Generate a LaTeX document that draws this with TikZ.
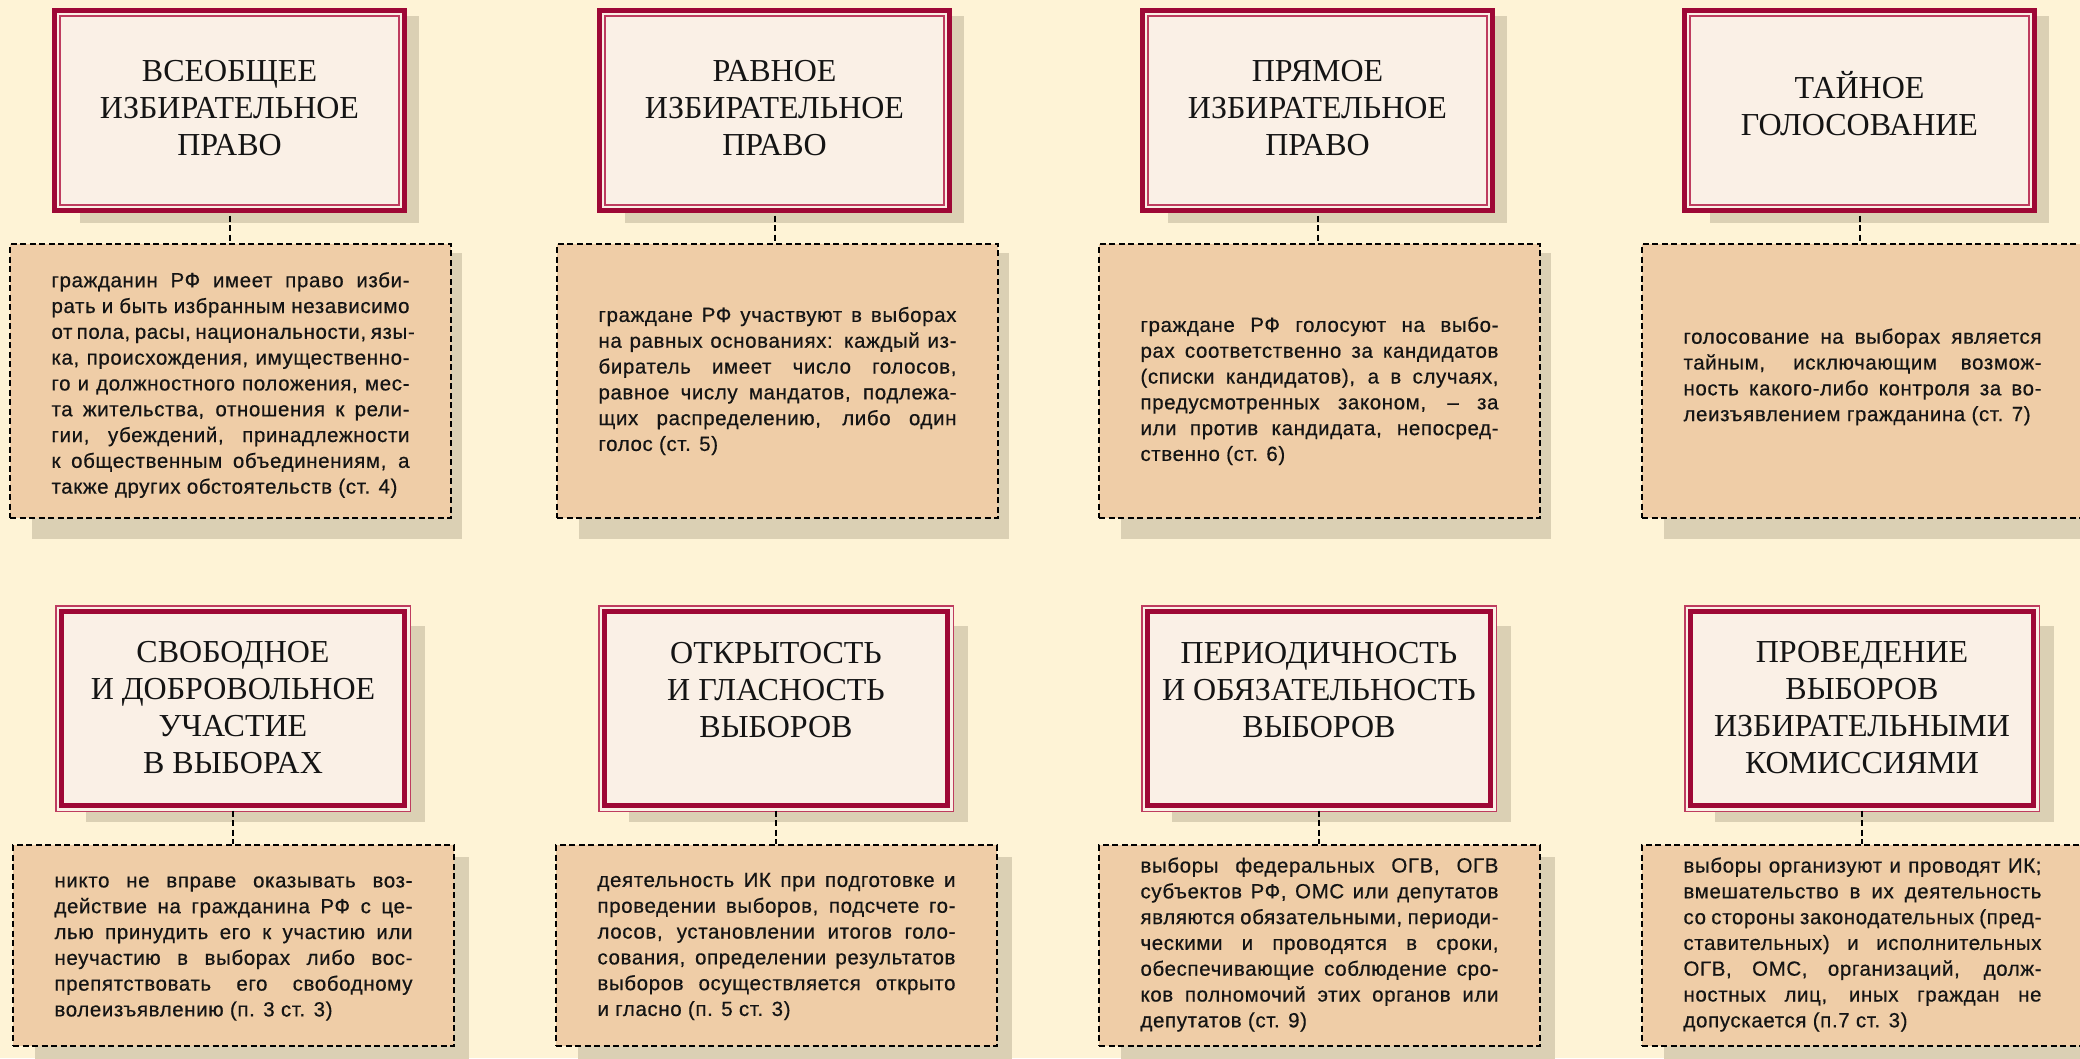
\documentclass[tikz,border=0pt]{standalone}
\usepackage{fontspec}
\setmainfont{Liberation Serif}
\newfontfamily\bodyfont[LetterSpace=3,FakeBold=0.5]{Liberation Sans}
\definecolor{bgc}{RGB}{254,243,214}
\definecolor{crim}{RGB}{158,8,54}
\definecolor{crimlt}{RGB}{190,60,95}
\definecolor{tfill}{RGB}{250,240,230}
\definecolor{peach}{RGB}{239,205,167}
\definecolor{shdw}{RGB}{219,208,180}
\newcommand\jl[1]{\makebox[358pt][s]{#1}\\}
\newcommand\lastl[1]{\makebox[358pt][l]{#1}}
\tikzset{
  ttop/.style={draw=crim, fill=tfill, line width=5pt, inner sep=0pt,
    minimum width=350pt, minimum height=200pt},
  tbot/.style={draw=crim, fill=tfill, line width=5pt, inner sep=0pt,
    minimum width=343pt, minimum height=194pt},
  ttext/.style={align=center, inner sep=0pt, text=black!92,
    font=\fontsize{32}{37}\selectfont},
  tbx/.style={draw=black, fill=peach, line width=2pt, dash pattern=on 6pt off 3.5pt,
    minimum width=441pt, inner sep=0pt},
  btext/.style={align=left, inner sep=0pt, text=black!92,
    font=\bodyfont\fontsize{20.5}{25.8}\selectfont},
  conn/.style={draw=black, line width=2pt, dash pattern=on 6pt off 3.5pt, shorten <=2.5pt}
}
% top title: name, left x, text centre y, text
\newcommand\TT[4]{%
  \fill[shdw] ({#2+28},16) rectangle ({#2+367},223);
  \node[ttop] (#1) at ({#2+177.5},110.5) {};
  \draw[crimlt, line width=2pt] ({#2+8.3},16.3) rectangle ({#2+346.7},204.7);
  \node[ttext] (#1x) at ({#2+177.5},#3) {#4};
}
% bottom title: name, left x, text centre y, text
\newcommand\TB[4]{%
  \fill[shdw] ({#2+31},626) rectangle ({#2+370},822);
  \draw[crimlt, line width=1.5pt, fill=tfill] ({#2+0.75},605.75) rectangle ({#2+355.25},811.25);
  \node[tbot] (#1) at ({#2+178},708.5) {};
  \node[ttext] (#1x) at ({#2+178},#3) {#4};
}
% top text box: name, left x, text offset, text
\newcommand\XT[4]{%
  \fill[shdw] ({#2+23},253) rectangle ({#2+453},539);
  \node[tbx, minimum height=274pt] (#1) at ({#2+221.5},381) {};
  \node[btext] (#1x) at ({#2+221.5},{381+#3}) {#4};
}
% bottom text box
\newcommand\XB[4]{%
  \fill[shdw] ({#2+23},857) rectangle ({#2+457},1070);
  \node[tbx, minimum height=201pt] (#1) at ({#2+221.5},945.5) {};
  \node[btext] (#1x) at ({#2+221.5},{945.5+#3}) {#4};
}
\begin{document}
\begin{tikzpicture}[x=1pt,y=-1pt]
\useasboundingbox (0,0) rectangle (2080,1058);
\fill[bgc] (0,0) rectangle (2080,1058);

% ---------- top row ----------
\TT{t1}{52}{108}{ВСЕОБЩЕЕ\\ИЗБИРАТЕЛЬНОЕ\\ПРАВО}
\XT{b1}{9}{4}{%
\jl{гражданин РФ имеет право изби-}
\jl{рать и быть избранным независимо}
\jl{от пола, расы, национальности, язы-}
\jl{ка, происхождения, имущественно-}
\jl{го и должностного положения, мес-}
\jl{та жительства, отношения к рели-}
\jl{гии, убеждений, принадлежности}
\jl{к общественным объединениям, а}
\lastl{также других обстоятельств (ст. 4)}}

\TT{t2}{597}{108}{РАВНОЕ\\ИЗБИРАТЕЛЬНОЕ\\ПРАВО}
\XT{b2}{556}{0}{%
\jl{граждане РФ участвуют в выборах}
\jl{на равных основаниях: каждый из-}
\jl{биратель имеет число голосов,}
\jl{равное числу мандатов, подлежа-}
\jl{щих распределению, либо один}
\lastl{голос (ст. 5)}}

\TT{t3}{1140}{108}{ПРЯМОЕ\\ИЗБИРАТЕЛЬНОЕ\\ПРАВО}
\XT{b3}{1098}{10}{%
\jl{граждане РФ голосуют на выбо-}
\jl{рах соответственно за кандидатов}
\jl{(списки кандидатов), а в случаях,}
\jl{предусмотренных законом, – за}
\jl{или против кандидата, непосред-}
\lastl{ственно (ст. 6)}}

\TT{t4}{1682}{104}{ТАЙНОЕ\\ГОЛОСОВАНИЕ}
\XT{b4}{1641}{-4}{%
\jl{голосование на выборах является}
\jl{тайным, исключающим возмож-}
\jl{ность какого-либо контроля за во-}
\lastl{леизъявлением гражданина (ст. 7)}}

% ---------- bottom row ----------
\TB{t5}{55}{707.5}{СВОБОДНОЕ\\И ДОБРОВОЛЬНОЕ\\УЧАСТИЕ\\В ВЫБОРАХ}
\XB{b5}{12}{3}{%
\jl{никто не вправе оказывать воз-}
\jl{действие на гражданина РФ с це-}
\jl{лью принудить его к участию или}
\jl{неучастию в выборах либо вос-}
\jl{препятствовать его свободному}
\lastl{волеизъявлению (п. 3 ст. 3)}}

\TB{t6}{598}{690}{ОТКРЫТОСТЬ\\И ГЛАСНОСТЬ\\ВЫБОРОВ}
\XB{b6}{555}{1}{%
\jl{деятельность ИК при подготовке и}
\jl{проведении выборов, подсчете го-}
\jl{лосов, установлении итогов голо-}
\jl{сования, определении результатов}
\jl{выборов осуществляется открыто}
\lastl{и гласно (п. 5 ст. 3)}}

\TB{t7}{1141}{690}{ПЕРИОДИЧНОСТЬ\\И ОБЯЗАТЕЛЬНОСТЬ\\ВЫБОРОВ}
\XB{b7}{1098}{-1}{%
\jl{выборы федеральных ОГВ, ОГВ}
\jl{субъектов РФ, ОМС или депутатов}
\jl{являются обязательными, периоди-}
\jl{ческими и проводятся в сроки,}
\jl{обеспечивающие соблюдение сро-}
\jl{ков полномочий этих органов или}
\lastl{депутатов (ст. 9)}}

\TB{t8}{1684}{707.5}{ПРОВЕДЕНИЕ\\ВЫБОРОВ\\ИЗБИРАТЕЛЬНЫМИ\\КОМИССИЯМИ}
\XB{b8}{1641}{-1}{%
\jl{выборы организуют и проводят ИК;}
\jl{вмешательство в их деятельность}
\jl{со стороны законодательных (пред-}
\jl{ставительных) и исполнительных}
\jl{ОГВ, ОМС, организаций, долж-}
\jl{ностных лиц, иных граждан не}
\lastl{допускается (п.7 ст. 3)}}

% ---------- connectors ----------
\foreach \i in {1,...,8}
  \draw[conn] (t\i.south) -- (t\i.south |- b\i.north);
\end{tikzpicture}
\end{document}
